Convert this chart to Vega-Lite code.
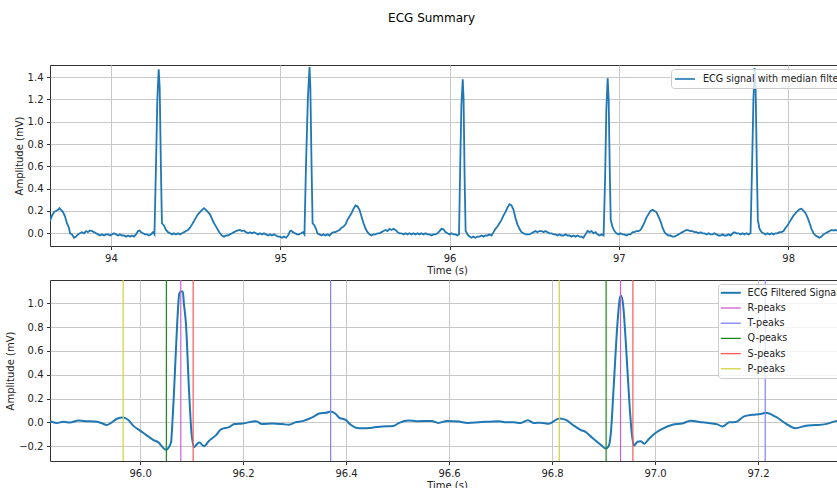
{
  "$schema": "https://vega.github.io/schema/vega-lite/v6.json",
  "padding": {"left": 5, "top": 11, "right": 0, "bottom": 0},
  "title": {"text": "ECG Summary", "font": "DejaVu Sans", "fontSize": 12, "fontWeight": "normal", "color": "#000", "anchor": "middle", "offset": 40, "dx": 5},
  "spacing": 2,
  "resolve": {"scale": {"color": "independent"}, "legend": {"color": "independent"}},
  "datasets": {
    "top": [
      {"time":93.640,"amp":0.11},{"time":93.652,"amp":0.16},{"time":93.664,"amp":0.19},{"time":93.675,"amp":0.20},{"time":93.687,"amp":0.21},{"time":93.696,"amp":0.225},{"time":93.705,"amp":0.21},{"time":93.717,"amp":0.19},{"time":93.729,"amp":0.15},{"time":93.740,"amp":0.09},{"time":93.752,"amp":0.05},{"time":93.758,"amp":0.00},{"time":93.770,"amp":-0.01},{"time":93.782,"amp":-0.04},{"time":93.794,"amp":-0.03},{"time":93.805,"amp":-0.01},{"time":93.817,"amp":0.00},{"time":93.829,"amp":0.01},{"time":93.841,"amp":0.00},{"time":93.853,"amp":0.02},{"time":93.864,"amp":0.01},{"time":93.876,"amp":0.025},{"time":93.888,"amp":0.02},{"time":93.900,"amp":0.01},{"time":93.912,"amp":0.00},{"time":93.924,"amp":-0.01},{"time":93.935,"amp":-0.02},{"time":93.947,"amp":-0.01},{"time":93.959,"amp":-0.02},{"time":93.971,"amp":-0.01},{"time":93.983,"amp":-0.01},{"time":93.994,"amp":-0.02},{"time":94.006,"amp":-0.01},{"time":94.018,"amp":0.00},{"time":94.030,"amp":-0.01},{"time":94.042,"amp":-0.02},{"time":94.053,"amp":-0.01},{"time":94.065,"amp":-0.02},{"time":94.077,"amp":-0.02},{"time":94.089,"amp":-0.03},{"time":94.101,"amp":-0.02},{"time":94.113,"amp":-0.03},{"time":94.124,"amp":-0.02},{"time":94.136,"amp":-0.03},{"time":94.148,"amp":-0.01},{"time":94.160,"amp":0.02},{"time":94.169,"amp":0.025},{"time":94.177,"amp":0.01},{"time":94.189,"amp":0.00},{"time":94.201,"amp":-0.01},{"time":94.213,"amp":-0.01},{"time":94.225,"amp":-0.02},{"time":94.237,"amp":-0.01},{"time":94.248,"amp":0.01},{"time":94.257,"amp":-0.01},{"time":94.266,"amp":0.6},{"time":94.274,"amp":1.2},{"time":94.282,"amp":1.47},{"time":94.288,"amp":1.30},{"time":94.295,"amp":0.6},{"time":94.301,"amp":0.09},{"time":94.313,"amp":0.07},{"time":94.325,"amp":0.03},{"time":94.337,"amp":0.01},{"time":94.349,"amp":0.00},{"time":94.361,"amp":-0.01},{"time":94.372,"amp":0.00},{"time":94.384,"amp":-0.01},{"time":94.396,"amp":0.00},{"time":94.408,"amp":-0.01},{"time":94.420,"amp":0.00},{"time":94.432,"amp":0.01},{"time":94.443,"amp":0.02},{"time":94.455,"amp":0.03},{"time":94.467,"amp":0.05},{"time":94.479,"amp":0.08},{"time":94.491,"amp":0.11},{"time":94.502,"amp":0.14},{"time":94.514,"amp":0.17},{"time":94.526,"amp":0.19},{"time":94.538,"amp":0.21},{"time":94.550,"amp":0.225},{"time":94.561,"amp":0.21},{"time":94.573,"amp":0.19},{"time":94.585,"amp":0.17},{"time":94.597,"amp":0.13},{"time":94.609,"amp":0.09},{"time":94.621,"amp":0.06},{"time":94.632,"amp":0.03},{"time":94.644,"amp":0.00},{"time":94.656,"amp":-0.02},{"time":94.668,"amp":-0.03},{"time":94.680,"amp":-0.02},{"time":94.691,"amp":-0.02},{"time":94.703,"amp":-0.01},{"time":94.715,"amp":0.00},{"time":94.727,"amp":0.01},{"time":94.739,"amp":0.02},{"time":94.750,"amp":0.025},{"time":94.762,"amp":0.03},{"time":94.774,"amp":0.02},{"time":94.786,"amp":0.025},{"time":94.798,"amp":0.01},{"time":94.810,"amp":0.00},{"time":94.821,"amp":0.01},{"time":94.833,"amp":0.00},{"time":94.845,"amp":0.01},{"time":94.857,"amp":0.00},{"time":94.869,"amp":-0.01},{"time":94.880,"amp":0.00},{"time":94.892,"amp":-0.01},{"time":94.904,"amp":0.00},{"time":94.916,"amp":-0.01},{"time":94.928,"amp":-0.02},{"time":94.940,"amp":-0.01},{"time":94.951,"amp":-0.02},{"time":94.963,"amp":-0.01},{"time":94.975,"amp":-0.02},{"time":94.987,"amp":-0.03},{"time":94.999,"amp":-0.03},{"time":95.010,"amp":-0.04},{"time":95.022,"amp":-0.03},{"time":95.034,"amp":-0.04},{"time":95.046,"amp":-0.02},{"time":95.058,"amp":0.02},{"time":95.064,"amp":0.025},{"time":95.075,"amp":0.01},{"time":95.087,"amp":0.00},{"time":95.099,"amp":-0.01},{"time":95.111,"amp":-0.01},{"time":95.123,"amp":0.00},{"time":95.134,"amp":0.01},{"time":95.143,"amp":-0.01},{"time":95.152,"amp":0.6},{"time":95.163,"amp":1.2},{"time":95.173,"amp":1.49},{"time":95.178,"amp":1.3},{"time":95.185,"amp":0.6},{"time":95.191,"amp":0.09},{"time":95.202,"amp":0.07},{"time":95.211,"amp":0.04},{"time":95.220,"amp":0.00},{"time":95.232,"amp":-0.01},{"time":95.244,"amp":-0.02},{"time":95.255,"amp":-0.01},{"time":95.267,"amp":-0.02},{"time":95.279,"amp":-0.01},{"time":95.291,"amp":-0.02},{"time":95.303,"amp":0.00},{"time":95.315,"amp":0.01},{"time":95.326,"amp":0.01},{"time":95.338,"amp":0.02},{"time":95.350,"amp":0.03},{"time":95.362,"amp":0.05},{"time":95.374,"amp":0.06},{"time":95.386,"amp":0.08},{"time":95.397,"amp":0.12},{"time":95.409,"amp":0.15},{"time":95.421,"amp":0.18},{"time":95.433,"amp":0.22},{"time":95.445,"amp":0.25},{"time":95.457,"amp":0.24},{"time":95.468,"amp":0.21},{"time":95.480,"amp":0.15},{"time":95.492,"amp":0.09},{"time":95.504,"amp":0.04},{"time":95.516,"amp":0.01},{"time":95.527,"amp":-0.01},{"time":95.539,"amp":-0.02},{"time":95.551,"amp":-0.01},{"time":95.563,"amp":-0.01},{"time":95.575,"amp":0.00},{"time":95.586,"amp":0.00},{"time":95.598,"amp":0.01},{"time":95.610,"amp":0.02},{"time":95.622,"amp":0.03},{"time":95.634,"amp":0.02},{"time":95.645,"amp":0.04},{"time":95.657,"amp":0.03},{"time":95.669,"amp":0.04},{"time":95.681,"amp":0.03},{"time":95.693,"amp":0.01},{"time":95.704,"amp":0.00},{"time":95.716,"amp":0.00},{"time":95.728,"amp":-0.01},{"time":95.740,"amp":0.00},{"time":95.752,"amp":-0.01},{"time":95.763,"amp":0.00},{"time":95.775,"amp":-0.01},{"time":95.787,"amp":0.00},{"time":95.799,"amp":-0.01},{"time":95.811,"amp":0.00},{"time":95.822,"amp":-0.01},{"time":95.834,"amp":0.00},{"time":95.846,"amp":-0.01},{"time":95.858,"amp":0.00},{"time":95.870,"amp":-0.01},{"time":95.881,"amp":-0.01},{"time":95.893,"amp":-0.02},{"time":95.905,"amp":-0.01},{"time":95.917,"amp":-0.01},{"time":95.929,"amp":0.00},{"time":95.941,"amp":0.02},{"time":95.952,"amp":0.04},{"time":95.964,"amp":0.035},{"time":95.976,"amp":0.01},{"time":95.988,"amp":0.00},{"time":96.000,"amp":-0.01},{"time":96.011,"amp":0.00},{"time":96.023,"amp":-0.01},{"time":96.035,"amp":-0.01},{"time":96.047,"amp":-0.02},{"time":96.056,"amp":-0.01},{"time":96.063,"amp":0.6},{"time":96.070,"amp":1.15},{"time":96.078,"amp":1.38},{"time":96.083,"amp":1.2},{"time":96.089,"amp":0.5},{"time":96.095,"amp":0.02},{"time":96.106,"amp":-0.01},{"time":96.118,"amp":-0.03},{"time":96.129,"amp":-0.04},{"time":96.141,"amp":-0.03},{"time":96.153,"amp":-0.04},{"time":96.165,"amp":-0.03},{"time":96.177,"amp":-0.03},{"time":96.189,"amp":-0.02},{"time":96.200,"amp":-0.03},{"time":96.212,"amp":-0.02},{"time":96.224,"amp":-0.02},{"time":96.236,"amp":-0.01},{"time":96.248,"amp":-0.02},{"time":96.260,"amp":0.01},{"time":96.271,"amp":0.04},{"time":96.283,"amp":0.06},{"time":96.295,"amp":0.09},{"time":96.307,"amp":0.12},{"time":96.319,"amp":0.16},{"time":96.330,"amp":0.19},{"time":96.342,"amp":0.23},{"time":96.354,"amp":0.26},{"time":96.366,"amp":0.25},{"time":96.378,"amp":0.21},{"time":96.389,"amp":0.14},{"time":96.401,"amp":0.08},{"time":96.413,"amp":0.04},{"time":96.425,"amp":0.01},{"time":96.437,"amp":0.00},{"time":96.449,"amp":-0.01},{"time":96.460,"amp":-0.01},{"time":96.472,"amp":-0.01},{"time":96.484,"amp":0.00},{"time":96.496,"amp":0.01},{"time":96.508,"amp":0.02},{"time":96.519,"amp":0.01},{"time":96.531,"amp":0.02},{"time":96.543,"amp":0.02},{"time":96.555,"amp":0.01},{"time":96.567,"amp":0.02},{"time":96.578,"amp":0.01},{"time":96.590,"amp":0.00},{"time":96.602,"amp":0.00},{"time":96.614,"amp":-0.01},{"time":96.626,"amp":-0.01},{"time":96.638,"amp":-0.02},{"time":96.649,"amp":-0.01},{"time":96.661,"amp":-0.02},{"time":96.673,"amp":-0.02},{"time":96.685,"amp":-0.01},{"time":96.697,"amp":-0.02},{"time":96.708,"amp":-0.02},{"time":96.720,"amp":-0.03},{"time":96.732,"amp":-0.02},{"time":96.744,"amp":-0.03},{"time":96.756,"amp":-0.02},{"time":96.768,"amp":-0.03},{"time":96.779,"amp":-0.03},{"time":96.791,"amp":-0.04},{"time":96.803,"amp":-0.01},{"time":96.815,"amp":0.02},{"time":96.827,"amp":0.01},{"time":96.839,"amp":0.02},{"time":96.850,"amp":0.00},{"time":96.862,"amp":0.01},{"time":96.874,"amp":-0.01},{"time":96.886,"amp":-0.02},{"time":96.898,"amp":-0.01},{"time":96.910,"amp":-0.02},{"time":96.919,"amp":0.5},{"time":96.926,"amp":1.1},{"time":96.934,"amp":1.39},{"time":96.940,"amp":1.2},{"time":96.946,"amp":0.6},{"time":96.952,"amp":0.12},{"time":96.962,"amp":0.06},{"time":96.974,"amp":0.02},{"time":96.986,"amp":0.00},{"time":96.998,"amp":-0.01},{"time":97.010,"amp":0.00},{"time":97.021,"amp":-0.01},{"time":97.033,"amp":-0.01},{"time":97.045,"amp":-0.02},{"time":97.057,"amp":-0.01},{"time":97.069,"amp":-0.01},{"time":97.081,"amp":0.01},{"time":97.092,"amp":0.01},{"time":97.104,"amp":0.02},{"time":97.116,"amp":0.02},{"time":97.128,"amp":0.03},{"time":97.140,"amp":0.06},{"time":97.152,"amp":0.10},{"time":97.163,"amp":0.14},{"time":97.175,"amp":0.17},{"time":97.187,"amp":0.20},{"time":97.199,"amp":0.21},{"time":97.211,"amp":0.20},{"time":97.222,"amp":0.19},{"time":97.234,"amp":0.15},{"time":97.246,"amp":0.11},{"time":97.258,"amp":0.05},{"time":97.270,"amp":0.01},{"time":97.282,"amp":-0.01},{"time":97.293,"amp":-0.02},{"time":97.305,"amp":-0.02},{"time":97.317,"amp":-0.03},{"time":97.329,"amp":-0.03},{"time":97.341,"amp":-0.02},{"time":97.353,"amp":-0.01},{"time":97.364,"amp":0.00},{"time":97.376,"amp":0.01},{"time":97.388,"amp":0.02},{"time":97.400,"amp":0.03},{"time":97.412,"amp":0.025},{"time":97.424,"amp":0.02},{"time":97.435,"amp":0.02},{"time":97.447,"amp":0.01},{"time":97.459,"amp":0.01},{"time":97.471,"amp":0.00},{"time":97.483,"amp":0.01},{"time":97.494,"amp":0.00},{"time":97.506,"amp":0.00},{"time":97.518,"amp":-0.01},{"time":97.530,"amp":0.00},{"time":97.542,"amp":-0.01},{"time":97.553,"amp":-0.01},{"time":97.565,"amp":0.00},{"time":97.577,"amp":-0.01},{"time":97.589,"amp":-0.02},{"time":97.601,"amp":-0.02},{"time":97.613,"amp":-0.01},{"time":97.624,"amp":-0.02},{"time":97.636,"amp":-0.02},{"time":97.648,"amp":-0.01},{"time":97.660,"amp":-0.02},{"time":97.672,"amp":0.00},{"time":97.683,"amp":0.01},{"time":97.695,"amp":0.00},{"time":97.707,"amp":0.00},{"time":97.719,"amp":-0.01},{"time":97.731,"amp":0.00},{"time":97.742,"amp":-0.01},{"time":97.754,"amp":0.00},{"time":97.766,"amp":-0.01},{"time":97.778,"amp":0.00},{"time":97.787,"amp":0.6},{"time":97.795,"amp":1.2},{"time":97.802,"amp":1.48},{"time":97.808,"amp":1.3},{"time":97.815,"amp":0.6},{"time":97.821,"amp":0.12},{"time":97.831,"amp":0.04},{"time":97.843,"amp":0.01},{"time":97.855,"amp":0.00},{"time":97.866,"amp":-0.01},{"time":97.878,"amp":0.00},{"time":97.890,"amp":-0.01},{"time":97.902,"amp":0.00},{"time":97.914,"amp":-0.01},{"time":97.926,"amp":0.00},{"time":97.937,"amp":0.00},{"time":97.949,"amp":0.01},{"time":97.961,"amp":0.01},{"time":97.973,"amp":0.02},{"time":97.985,"amp":0.05},{"time":97.996,"amp":0.07},{"time":98.008,"amp":0.10},{"time":98.020,"amp":0.13},{"time":98.032,"amp":0.16},{"time":98.044,"amp":0.18},{"time":98.056,"amp":0.20},{"time":98.067,"amp":0.215},{"time":98.079,"amp":0.22},{"time":98.091,"amp":0.20},{"time":98.103,"amp":0.18},{"time":98.115,"amp":0.14},{"time":98.127,"amp":0.09},{"time":98.138,"amp":0.04},{"time":98.150,"amp":0.00},{"time":98.162,"amp":-0.02},{"time":98.174,"amp":-0.03},{"time":98.186,"amp":-0.04},{"time":98.197,"amp":-0.03},{"time":98.209,"amp":-0.01},{"time":98.221,"amp":0.00},{"time":98.233,"amp":0.01},{"time":98.245,"amp":0.02},{"time":98.257,"amp":0.03},{"time":98.268,"amp":0.025},{"time":98.280,"amp":0.03},{"time":98.292,"amp":0.02},{"time":98.304,"amp":0.03},{"time":98.316,"amp":0.02},{"time":98.330,"amp":0.02}
    ],
    "bottom": [
      {"time":95.825,"amp":0.01},{"time":95.838,"amp":-0.006},{"time":95.851,"amp":0.005},{"time":95.864,"amp":-0.002},{"time":95.880,"amp":0.015},{"time":95.897,"amp":0.01},{"time":95.913,"amp":0.006},{"time":95.926,"amp":-0.008},{"time":95.935,"amp":-0.022},{"time":95.945,"amp":0.0},{"time":95.955,"amp":0.03},{"time":95.967,"amp":0.04},{"time":95.977,"amp":0.02},{"time":95.987,"amp":-0.03},{"time":96.000,"amp":-0.07},{"time":96.013,"amp":-0.11},{"time":96.026,"amp":-0.15},{"time":96.036,"amp":-0.17},{"time":96.042,"amp":-0.20},{"time":96.050,"amp":-0.23},{"time":96.054,"amp":-0.22},{"time":96.060,"amp":-0.17},{"time":96.063,"amp":0.02},{"time":96.066,"amp":0.27},{"time":96.072,"amp":0.83},{"time":96.076,"amp":1.08},{"time":96.079,"amp":1.10},{"time":96.083,"amp":1.10},{"time":96.085,"amp":1.0},{"time":96.089,"amp":0.83},{"time":96.095,"amp":0.27},{"time":96.100,"amp":-0.10},{"time":96.105,"amp":-0.21},{"time":96.108,"amp":-0.195},{"time":96.115,"amp":-0.17},{"time":96.124,"amp":-0.20},{"time":96.134,"amp":-0.155},{"time":96.147,"amp":-0.11},{"time":96.157,"amp":-0.06},{"time":96.173,"amp":-0.04},{"time":96.183,"amp":-0.015},{"time":96.199,"amp":-0.01},{"time":96.225,"amp":0.01},{"time":96.237,"amp":-0.015},{"time":96.257,"amp":-0.01},{"time":96.276,"amp":-0.015},{"time":96.289,"amp":-0.02},{"time":96.302,"amp":0.0},{"time":96.315,"amp":0.01},{"time":96.328,"amp":0.03},{"time":96.338,"amp":0.05},{"time":96.348,"amp":0.075},{"time":96.361,"amp":0.08},{"time":96.370,"amp":0.09},{"time":96.380,"amp":0.07},{"time":96.386,"amp":0.04},{"time":96.399,"amp":0.02},{"time":96.409,"amp":-0.02},{"time":96.419,"amp":-0.045},{"time":96.432,"amp":-0.05},{"time":96.451,"amp":-0.045},{"time":96.470,"amp":-0.035},{"time":96.492,"amp":-0.03},{"time":96.503,"amp":-0.005},{"time":96.521,"amp":0.015},{"time":96.537,"amp":0.01},{"time":96.566,"amp":0.012},{"time":96.579,"amp":-0.005},{"time":96.596,"amp":0.012},{"time":96.619,"amp":0.006},{"time":96.636,"amp":-0.006},{"time":96.658,"amp":0.0},{"time":96.697,"amp":0.01},{"time":96.710,"amp":0.0},{"time":96.726,"amp":0.0},{"time":96.739,"amp":-0.006},{"time":96.753,"amp":0.017},{"time":96.765,"amp":-0.006},{"time":96.778,"amp":-0.003},{"time":96.794,"amp":-0.012},{"time":96.814,"amp":0.033},{"time":96.827,"amp":0.02},{"time":96.843,"amp":-0.03},{"time":96.856,"amp":-0.065},{"time":96.865,"amp":-0.08},{"time":96.878,"amp":-0.13},{"time":96.895,"amp":-0.19},{"time":96.904,"amp":-0.22},{"time":96.910,"amp":-0.20},{"time":96.914,"amp":-0.10},{"time":96.920,"amp":0.32},{"time":96.927,"amp":0.83},{"time":96.932,"amp":1.05},{"time":96.934,"amp":1.064},{"time":96.938,"amp":0.99},{"time":96.943,"amp":0.69},{"time":96.950,"amp":0.18},{"time":96.955,"amp":-0.10},{"time":96.959,"amp":-0.195},{"time":96.966,"amp":-0.163},{"time":96.972,"amp":-0.16},{"time":96.979,"amp":-0.18},{"time":96.988,"amp":-0.14},{"time":97.001,"amp":-0.09},{"time":97.014,"amp":-0.056},{"time":97.034,"amp":-0.02},{"time":97.053,"amp":-0.01},{"time":97.069,"amp":0.013},{"time":97.092,"amp":0.0},{"time":97.111,"amp":-0.01},{"time":97.120,"amp":-0.015},{"time":97.131,"amp":-0.035},{"time":97.144,"amp":0.0},{"time":97.157,"amp":0.003},{"time":97.173,"amp":0.05},{"time":97.189,"amp":0.064},{"time":97.205,"amp":0.07},{"time":97.215,"amp":0.08},{"time":97.234,"amp":0.047},{"time":97.254,"amp":-0.01},{"time":97.273,"amp":-0.05},{"time":97.293,"amp":-0.028},{"time":97.312,"amp":-0.023},{"time":97.331,"amp":-0.015},{"time":97.351,"amp":0.01},{"time":97.367,"amp":0.02}
    ],
    "peaks": [
      {"time":96.079,"type":"R-peaks"},{"time":96.933,"type":"R-peaks"},
      {"time":96.370,"type":"T-peaks"},{"time":97.214,"type":"T-peaks"},
      {"time":96.051,"type":"Q-peaks"},{"time":96.905,"type":"Q-peaks"},
      {"time":96.103,"type":"S-peaks"},{"time":96.957,"type":"S-peaks"},
      {"time":95.967,"type":"P-peaks"},{"time":96.814,"type":"P-peaks"}
    ]
  },
  "vconcat": [
    {
      "width": 794,
      "height": 181,
      "data": {"name": "top"},
      "mark": {"type": "line", "strokeWidth": 1.8, "clip": true},
      "encoding": {
        "x": {"field": "time", "type": "quantitative", "scale": {"domain": [93.64, 98.33], "nice": false, "zero": false},
              "axis": {"title": "Time (s)", "values": [94, 95, 96, 97, 98], "format": "d"}},
        "y": {"field": "amp", "type": "quantitative", "scale": {"domain": [-0.114, 1.508], "nice": false, "zero": false},
              "axis": {"title": "Amplitude (mV)", "values": [0, 0.2, 0.4, 0.6, 0.8, 1.0, 1.2, 1.4], "format": ".1f"}},
        "color": {"datum": "ECG signal with median filter", "type": "nominal",
                  "scale": {"domain": ["ECG signal with median filter"], "range": ["#1f77b4"]},
                  "legend": {"title": null, "orient": "none", "legendX": 621, "legendY": 4}}
      }
    },
    {
      "width": 794,
      "height": 181,
      "layer": [
        {
          "data": {"name": "bottom"},
          "mark": {"type": "line", "strokeWidth": 2, "interpolate": "monotone", "clip": true},
          "encoding": {
            "x": {"field": "time", "type": "quantitative", "scale": {"domain": [95.825, 97.367], "nice": false, "zero": false},
                  "axis": {"title": "Time (s)", "values": [96.0, 96.2, 96.4, 96.6, 96.8, 97.0, 97.2], "format": ".1f"}},
            "y": {"field": "amp", "type": "quantitative", "scale": {"domain": [-0.325, 1.196], "nice": false, "zero": false},
                  "axis": {"title": "Amplitude (mV)", "values": [-0.2, 0, 0.2, 0.4, 0.6, 0.8, 1.0], "format": ".1f"}},
            "color": {"datum": "ECG Filtered Signal", "type": "nominal",
                      "scale": {"domain": ["ECG Filtered Signal", "R-peaks", "T-peaks", "Q-peaks", "S-peaks", "P-peaks"],
                                "range": ["#1f77b4", "#cf5fcf", "#7f7fff", "#1a8a1a", "#ff5757", "#d1d140"]},
                      "legend": {"title": null, "orient": "none", "legendX": 668, "legendY": 4,
                                 "encode": {"symbols": {"update": {"strokeWidth": {"signal": "datum.value === 'ECG Filtered Signal' ? 2 : 1.3"}}}}}}
          }
        },
        {
          "data": {"name": "peaks"},
          "mark": {"type": "rule", "strokeWidth": 1.2},
          "encoding": {
            "x": {"field": "time", "type": "quantitative"},
            "color": {"field": "type", "type": "nominal", "legend": {"title": null}}
          }
        }
      ],
      "encoding": {}
    }
  ],
  "config": {
    "font": "DejaVu Sans",
    "view": {"stroke": "#333333", "strokeWidth": 1},
    "axis": {
      "labelFont": "DejaVu Sans", "labelFontSize": 10, "labelColor": "#222222",
      "titleFont": "DejaVu Sans", "titleFontSize": 10, "titleFontWeight": "normal", "titleColor": "#222222",
      "tickColor": "#333333", "tickSize": 3.5, "tickWidth": 1, "labelPadding": 3.5,
      "domain": false, "gridColor": "#c8c8c8", "gridWidth": 1, "titlePadding": 3,
      "labelFlush": false, "labelOverlap": false
    },
    "axisX": {"titlePadding": 2},
    "legend": {
      "labelFont": "DejaVu Sans", "labelFontSize": 9.6, "labelColor": "#222222",
      "padding": 4, "fillColor": "rgba(255,255,255,0.8)", "strokeColor": "#cccccc", "cornerRadius": 3,
      "symbolType": "M-2,0H2", "symbolSize": 100, "symbolStrokeWidth": 1.6, "symbolOffset": 4, "labelOffset": 12, "rowPadding": 4.2
    }
  }
}
